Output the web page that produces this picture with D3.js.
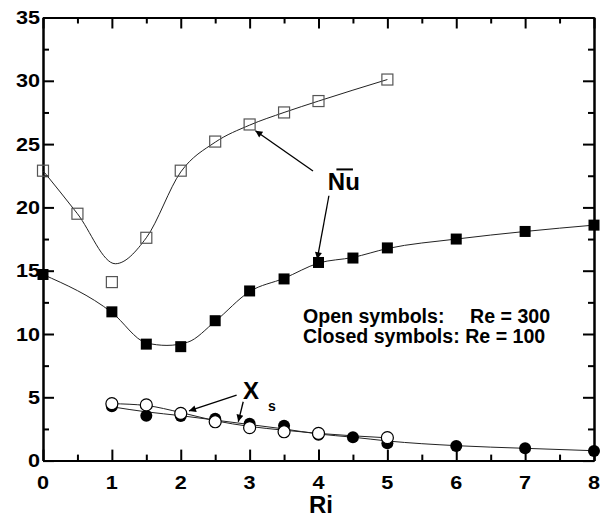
<!DOCTYPE html>
<html><head><meta charset="utf-8">
<script src="https://cdn.jsdelivr.net/npm/d3@7"></script>
<style>html,body{margin:0;padding:0;background:#fff}svg{display:block}</style>
</head><body>
<svg id="c" width="602" height="520"></svg>
<script>
// ---------- data ----------
const xTicks = [0,1,2,3,4,5,6,7,8];
const yTicks = [0,5,10,15,20,25,30,35];
const xMinor = [0.5,1.5,2.5,3.5,4.5,5.5,6.5,7.5];
const yMinor = [2.5,7.5,12.5,17.5,22.5,27.5,32.5];

// Nu, open symbols (Re = 300)
const riNuOpen = [0,0.5,1,1.5,2,2.5,3,3.5,4,5];
const nuOpen   = [22.9,19.5,14.1,17.6,22.9,25.2,26.55,27.5,28.4,30.1];
const riNuOpenFit = [0,0.5,1.05,1.5,2,2.5,3,3.5,4,5];
const nuOpenFit   = [22.9,19.5,15.55,17.6,22.8,25.15,26.5,27.5,28.4,30.1];

// Nu, closed symbols (Re = 100)
const riNuClosed = [0,1,1.5,2,2.5,3,3.5,4,4.5,5,6,7,8];
const nuClosed   = [14.7,11.75,9.2,9.0,11.05,13.4,14.35,15.65,16.0,16.8,17.5,18.1,18.6];
const riNuClosedFit = [0,1,1.5,1.8,2.1,2.5,3,3.5,4,4.5,5,6,7,8];
const nuClosedFit   = [14.7,11.7,9.3,9.1,9.35,11.0,13.35,14.4,15.6,16.05,16.75,17.5,18.1,18.6];

// Xs, open symbols (Re = 300)
const riXsOpen = [1,1.5,2,2.5,3,3.5,4,5];
const xsOpen   = [4.5,4.4,3.73,3.07,2.6,2.28,2.15,1.81];
const xsOpenFit = [4.5,4.35,3.8,3.15,2.7,2.4,2.15,1.8];

// Xs, closed symbols (Re = 100)
const riXsClosed = [1,1.5,2,2.5,3,3.5,4,4.5,5,6,7,8];
const xsClosed   = [4.3,3.55,3.52,3.3,2.92,2.76,2.05,1.84,1.37,1.15,0.97,0.76];
const xsClosedFit = [4.25,3.85,3.55,3.2,2.85,2.5,2.1,1.85,1.55,1.18,0.97,0.78];

// annotation arrows [x1,y1,x2,y2] in data units (tip at x2,y2)
const arrows = [
  [3.92,22.87,3.084,26.06],
  [4.151,20.92,3.981,15.9],
  [2.811,5.18,2.119,3.92],
  [2.907,4.65,2.835,3.07]
];

// ---------- chart ----------
const svg = d3.select("#c");
const L = 43, R = 594, T = 17.5, B = 460.6;
const x = d3.scaleLinear().domain([0,8]).range([L,R]);
const y = d3.scaleLinear().domain([0,35]).range([B,T]);
const FONT = "'Liberation Sans', Arial, sans-serif";

const zip = (a,b) => a.map((d,i)=>[d,b[i]]);

// axes
function styleAxis(g){
  g.selectAll("path.domain").attr("stroke","#000").attr("stroke-width",2);
  g.selectAll(".tick line").attr("stroke","#000").attr("stroke-width",2);
  g.selectAll("text").remove();
}
const maj = 11, mnr = 6;
svg.append("g").attr("transform",`translate(0,${B})`)
  .call(d3.axisBottom(x).tickValues(xTicks).tickSize(-maj).tickSizeOuter(0)).call(styleAxis);
svg.append("g").attr("transform",`translate(0,${B})`)
  .call(d3.axisBottom(x).tickValues(xMinor).tickSize(-mnr).tickSizeOuter(0)).call(styleAxis);
svg.append("g").attr("transform",`translate(0,${T})`)
  .call(d3.axisTop(x).tickValues(xTicks).tickSize(-maj).tickSizeOuter(0)).call(styleAxis);
svg.append("g").attr("transform",`translate(0,${T})`)
  .call(d3.axisTop(x).tickValues(xMinor).tickSize(-mnr).tickSizeOuter(0)).call(styleAxis);
svg.append("g").attr("transform",`translate(${L},0)`)
  .call(d3.axisLeft(y).tickValues(yTicks).tickSize(-maj).tickSizeOuter(0)).call(styleAxis);
svg.append("g").attr("transform",`translate(${L},0)`)
  .call(d3.axisLeft(y).tickValues(yMinor).tickSize(-mnr).tickSizeOuter(0)).call(styleAxis);
svg.append("g").attr("transform",`translate(${R},0)`)
  .call(d3.axisRight(y).tickValues(yTicks).tickSize(-maj).tickSizeOuter(0)).call(styleAxis);
svg.append("g").attr("transform",`translate(${R},0)`)
  .call(d3.axisRight(y).tickValues(yMinor).tickSize(-mnr).tickSizeOuter(0)).call(styleAxis);

// tick labels (slightly wide bold digits)
const SX = 1.17;
svg.append("g").selectAll("g").data(xTicks).join("g")
  .attr("transform",d=>`translate(${x(d)},489) scale(${SX},1)`)
  .append("text").attr("text-anchor","middle")
  .attr("font-family",FONT).attr("font-weight","bold").attr("font-size",18.5)
  .text(d=>d);
svg.append("g").selectAll("g").data(yTicks).join("g")
  .attr("transform",d=>`translate(40,${y(d)+6.6}) scale(${SX},1)`)
  .append("text").attr("text-anchor","end")
  .attr("font-family",FONT).attr("font-weight","bold").attr("font-size",18.5)
  .text(d=>d);

// axis title
svg.append("text").attr("x",321).attr("y",513).attr("text-anchor","middle")
  .attr("font-family",FONT).attr("font-weight","bold").attr("font-size",24).text("Ri");

// curves
const line = d3.line().x(d=>x(d[0])).y(d=>y(d[1])).curve(d3.curveMonotoneX);
const curves = [
  zip(riNuOpenFit,nuOpenFit),
  zip(riNuClosedFit,nuClosedFit),
  zip(riXsOpen,xsOpenFit),
  zip(riXsClosed,xsClosedFit)
];
svg.append("g").selectAll("path").data(curves).join("path")
  .attr("d",line).attr("fill","none").attr("stroke","#222").attr("stroke-width",1);

// markers
const S = 11;
svg.append("g").selectAll("rect").data(zip(riNuClosed,nuClosed)).join("rect")
  .attr("x",d=>x(d[0])-S/2).attr("y",d=>y(d[1])-S/2).attr("width",S).attr("height",S)
  .attr("fill","#000");
svg.append("g").selectAll("rect").data(zip(riNuOpen,nuOpen)).join("rect")
  .attr("x",d=>x(d[0])-S/2).attr("y",d=>y(d[1])-S/2).attr("width",S).attr("height",S)
  .attr("fill","#fff").attr("fill-opacity",0).attr("stroke","#555").attr("stroke-width",1.2);
svg.append("g").selectAll("circle").data(zip(riXsClosed,xsClosed)).join("circle")
  .attr("cx",d=>x(d[0])).attr("cy",d=>y(d[1])).attr("r",6).attr("fill","#000");
svg.append("g").selectAll("circle").data(zip(riXsOpen,xsOpen)).join("circle")
  .attr("cx",d=>x(d[0])).attr("cy",d=>y(d[1])).attr("r",6)
  .attr("fill","#fff").attr("stroke","#000").attr("stroke-width",1.2);

// arrows
const defs = svg.append("defs");
defs.append("marker").attr("id","ah").attr("viewBox","0 0 10 10")
  .attr("refX",10).attr("refY",5).attr("markerWidth",11).attr("markerHeight",7)
  .attr("markerUnits","userSpaceOnUse").attr("orient","auto")
  .append("path").attr("d","M0,0 L10,5 L0,10 Z").attr("fill","#000");
svg.append("g").selectAll("line").data(arrows).join("line")
  .attr("x1",d=>x(d[0])).attr("y1",d=>y(d[1])).attr("x2",d=>x(d[2])).attr("y2",d=>y(d[3]))
  .attr("stroke","#000").attr("stroke-width",1.3).attr("marker-end","url(#ah)");

// labels
svg.append("text").attr("x",x(4.136)).attr("y",y(21.37))
  .attr("font-family",FONT).attr("font-weight","bold").attr("font-size",24).text("Nu");
svg.append("line").attr("x1",x(4.26)).attr("x2",x(4.5)).attr("y1",y(23.0)).attr("y2",y(23.0))
  .attr("stroke","#000").attr("stroke-width",2);
svg.append("text").attr("x",x(2.903)).attr("y",y(4.87))
  .attr("font-family",FONT).attr("font-weight","bold").attr("font-size",24).text("X");
svg.append("text").attr("x",x(3.266)).attr("y",y(3.92))
  .attr("font-family",FONT).attr("font-weight","bold").attr("font-size",14).text("s");

const lg = svg.append("g").attr("font-family",FONT).attr("font-weight","bold").attr("font-size",19.6);
lg.append("text").attr("x",x(3.774)).attr("y",y(10.87)).text("Open symbols:");
lg.append("text").attr("x",x(6.2)).attr("y",y(10.87)).text("Re = 300");
lg.append("text").attr("x",x(3.774)).attr("y",y(9.27)).text("Closed symbols: Re = 100");
</script>
</body></html>
